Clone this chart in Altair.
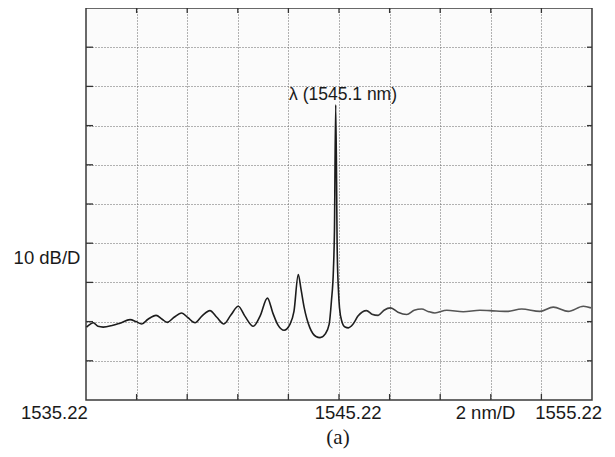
import altair as alt
import pandas as pd

# Spectrum trace (wavelength in nm, relative power in dB units, 10 dB / division)
wavelength = [1535.24, 1535.38, 1535.51, 1535.69, 1535.90, 1536.25, 1536.56, 1536.96,
              1537.20, 1537.42, 1537.67, 1537.99, 1538.23, 1538.43, 1538.70, 1539.00,
              1539.25, 1539.53, 1539.80, 1540.12, 1540.39, 1540.67, 1540.94, 1541.24,
              1541.50, 1541.83, 1542.10, 1542.39, 1542.61, 1542.81, 1543.05, 1543.28,
              1543.44, 1543.61, 1543.72, 1543.84, 1544.07, 1544.31, 1544.47, 1544.67,
              1544.83, 1544.92, 1545.00, 1545.04, 1545.09, 1545.15, 1545.20, 1545.24,
              1545.33, 1545.46, 1545.59, 1545.77, 1545.97, 1546.31, 1546.52, 1546.77,
              1547.00, 1547.26, 1547.55, 1547.90, 1548.19, 1548.49, 1548.74, 1549.01,
              1549.48, 1550.13, 1550.79, 1551.19, 1551.85, 1552.44, 1553.16, 1553.69,
              1554.28, 1554.88, 1555.18]
power = [18.6, 19.3, 19.7, 18.8, 18.6, 19.0, 19.6, 20.5,
         20.0, 19.4, 20.6, 21.6, 20.6, 19.8, 21.1, 22.2,
         21.0, 19.7, 21.4, 22.8, 21.1, 19.4, 21.6, 23.9,
         21.4, 18.8, 21.4, 26.0, 22.1, 19.1, 17.8, 19.3,
         22.6, 32.0, 28.2, 23.7, 18.4, 16.2, 15.9, 16.8,
         19.3, 25.2, 33.3, 43.0, 75.3, 37.9, 27.7, 23.5,
         20.1, 18.6, 18.4, 19.3, 21.4, 22.8, 21.9, 21.6,
         22.9, 23.5, 22.4, 21.8, 22.9, 23.2, 22.6, 22.2,
         22.9, 22.5, 22.9, 22.8, 22.6, 23.2, 22.6, 23.7,
         22.6, 23.9, 23.5]

grid_x = [1537.22, 1539.22, 1541.22, 1543.22, 1545.22, 1547.22, 1549.22, 1551.22, 1553.22]
grid_y = [10, 20, 30, 40, 50, 60, 70, 80, 90]

axis_labels = ["1535.22", "1545.22", "2 nm/D", "1555.22"]
axis_label_x = [1533.97, 1545.58, 1551.01, 1554.30]
axis_label_y = [-3.3, -3.3, -3.3, -3.3]

ylabel_text = ["10 dB/D"]
ylabel_x = [1533.68]
ylabel_y = [36.1]

peak_text = ["λ (1545.1 nm)"]
peak_x = [1545.38]
peak_y = [77.9]

caption_text = ["(a)"]
caption_x = [1545.18]
caption_y = [-9.6]

W, H = 506, 392
XMIN, XMAX = 1535.22, 1555.22

xscale = alt.Scale(domain=[XMIN, XMAX], nice=False, zero=False)
yscale = alt.Scale(domain=[0, 100], nice=False, zero=False)

trace = pd.DataFrame({"x": wavelength, "y": power})
gx = pd.DataFrame({"x": grid_x})
gy = pd.DataFrame({"y": grid_y})
lab = pd.DataFrame({"x": axis_label_x, "y": axis_label_y, "t": axis_labels})
ylab = pd.DataFrame({"x": ylabel_x, "y": ylabel_y, "t": ylabel_text})
pk = pd.DataFrame({"x": peak_x, "y": peak_y, "t": peak_text})
cap = pd.DataFrame({"x": caption_x, "y": caption_y, "t": caption_text})

grid_style = dict(grid=True, labels=False, ticks=False, domain=False, title=None,
                  gridDash=[1, 2], gridColor="#666666", gridWidth=1)

trace_stroke = alt.Gradient(
    gradient="linear", x1=0, x2=1, y1=0, y2=0,
    stops=[alt.GradientStop(offset=0, color="#1c1c1c"),
           alt.GradientStop(offset=0.52, color="#1c1c1c"),
           alt.GradientStop(offset=0.66, color="#555555"),
           alt.GradientStop(offset=1, color="#555555")],
)

line = alt.Chart(trace).mark_line(
    stroke=trace_stroke, strokeWidth=1.6, interpolate="monotone", clip=True
).encode(
    x=alt.X("x:Q", scale=xscale, axis=alt.Axis(values=grid_x, **grid_style)),
    y=alt.Y("y:Q", scale=yscale, axis=alt.Axis(values=grid_y, **grid_style)),
)

tick_style = dict(color="#333333", strokeWidth=1.3)
xt_bottom = alt.Chart(gx).mark_rule(**tick_style).encode(
    x=alt.X("x:Q", scale=xscale), y=alt.value(H), y2=alt.value(H - 6))
xt_top = alt.Chart(gx).mark_rule(**tick_style).encode(
    x=alt.X("x:Q", scale=xscale), y=alt.value(0), y2=alt.value(5))
yt_left = alt.Chart(gy).mark_rule(**tick_style).encode(
    y=alt.Y("y:Q", scale=yscale), x=alt.value(0), x2=alt.value(7))
yt_right = alt.Chart(gy).mark_rule(**tick_style).encode(
    y=alt.Y("y:Q", scale=yscale), x=alt.value(W), x2=alt.value(W - 5))

def text_layer(df, size, font="Liberation Sans", color="#1a1a1a"):
    return alt.Chart(df).mark_text(
        font=font, fontSize=size, color=color, align="center", baseline="middle"
    ).encode(
        x=alt.X("x:Q", scale=xscale),
        y=alt.Y("y:Q", scale=yscale),
        text="t:N",
    )

chart = alt.layer(
    line, xt_bottom, xt_top, yt_left, yt_right,
    text_layer(lab, 18.5),
    text_layer(ylab, 18.5),
    text_layer(pk, 17.5),
    text_layer(cap, 21, font="Liberation Serif"),
).properties(
    width=W, height=H,
    autosize=alt.AutoSizeParams(type="none"),
    padding={"left": 78, "top": 0, "right": 15, "bottom": 49},
    background="white",
).configure_view(
    stroke="#3a3a3a", strokeWidth=1.5, fill="#fbfbfb"
)

chart.save("out.html", embed_options={"renderer": "svg", "actions": False})
